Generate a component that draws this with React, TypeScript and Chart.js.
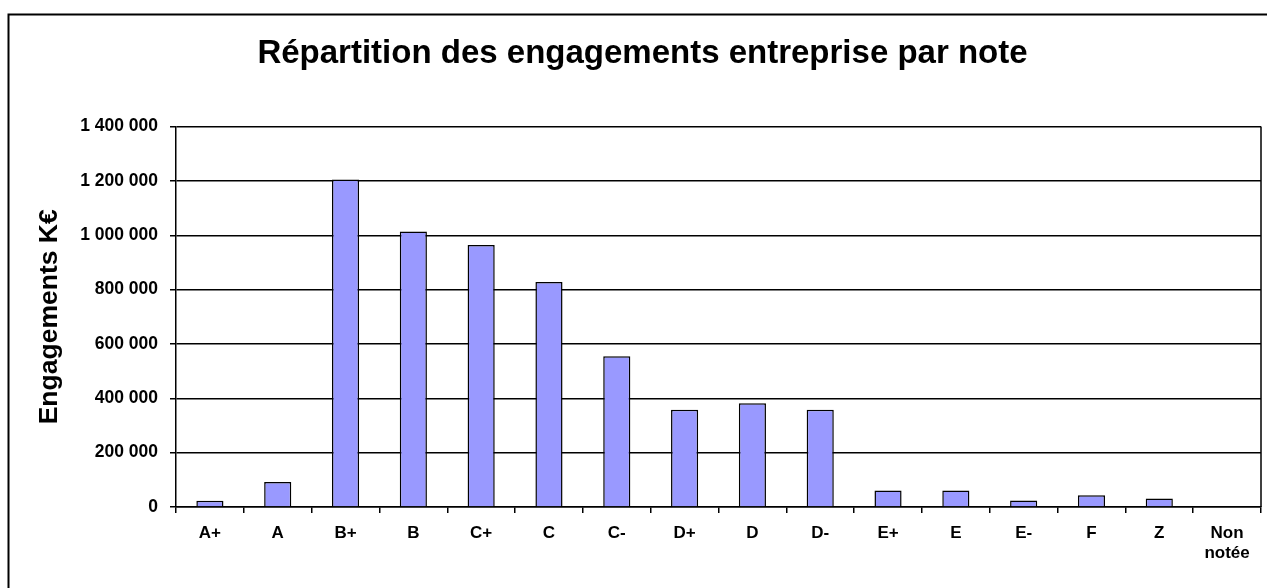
import React, { useEffect, useRef } from "react";
import { Chart, registerables } from "chart.js";

Chart.register(...registerables);

const categories: (string | string[])[] = [
  "A+", "A", "B+", "B", "C+", "C", "C-", "D+", "D", "D-", "E+", "E", "E-", "F", "Z", ["Non", "notée"],
];
const engagements: number[] = [
  23000, 92000, 1205000, 1014000, 964000, 828000, 555000, 358000, 382000, 358000, 61000, 61000, 24000, 43000, 31000, 0,
];
const yMin = 0;
const yMax = 1400000;
const yStep = 200000;
const titleText = "Répartition des engagements entreprise par note";
const yTitleText = "Engagements K€";

const FONT = "'Liberation Sans', Arial, Helvetica, sans-serif";

const fmt = (v: number) => String(Math.round(v)).replace(/\B(?=(\d{3})+(?!\d))/g, " ");

const framePlugin = {
  id: "frame",
  afterDraw(chart: any) {
    const { ctx, chartArea } = chart;
    ctx.save();
    ctx.strokeStyle = "#000";
    ctx.lineWidth = 2;
    ctx.strokeRect(8.5, 14.5, 1400, 700);
    ctx.lineWidth = 1.5;
    ctx.beginPath();
    ctx.moveTo(chartArea.right, chartArea.top);
    ctx.lineTo(chartArea.right, chartArea.bottom);
    ctx.stroke();
    ctx.restore();
  },
};

export default function App() {
  const ref = useRef<HTMLCanvasElement | null>(null);
  useEffect(() => {
    if (!ref.current) return;
    const chart = new Chart(ref.current, {
      type: "bar",
      data: {
        labels: categories,
        datasets: [
          {
            data: engagements,
            backgroundColor: "#9999FF",
            borderColor: "#000000",
            borderWidth: 1.5,
            barPercentage: 0.4,
            categoryPercentage: 1,
          },
        ],
      },
      options: {
        responsive: false,
        animation: false,
        devicePixelRatio: 1,
        layout: { padding: { left: 24, right: 6, top: 0, bottom: 0 } },
        plugins: {
          legend: { display: false },
          tooltip: { enabled: false },
          title: {
            display: true,
            text: titleText,
            color: "#000",
            font: { family: FONT, size: 33, weight: "bold", lineHeight: 1.2 },
            padding: { top: 34, bottom: 53 },
          },
        },
        scales: {
          x: {
            afterFit: (s: any) => { s.height = 81; },
            grid: {
              display: true,
              offset: true,
              drawOnChartArea: false,
              drawTicks: true,
              tickLength: 6,
              color: "#000",
              lineWidth: 1.5,
            },
            border: { display: true, color: "#000", width: 1.5 },
            ticks: {
              color: "#000",
              padding: 10,
              maxRotation: 0,
              autoSkip: false,
              font: { family: FONT, size: 17, weight: "bold", lineHeight: 1.18 },
            },
          },
          y: {
            min: yMin,
            max: yMax,
            afterFit: (s: any) => { s.width = 152; },
            grid: { color: "#000", lineWidth: 1.5, tickLength: 6 },
            border: { display: true, color: "#000", width: 1.5 },
            ticks: {
              stepSize: yStep,
              color: "#000",
              padding: 12,
              font: { family: FONT, size: 17.5, weight: "bold" },
              callback: (v: any) => fmt(Number(v)),
            },
            title: {
              display: true,
              text: yTitleText,
              color: "#000",
              font: { family: FONT, size: 26.5, weight: "bold", lineHeight: 1.2 },
              padding: { top: 10, bottom: 0 },
            },
          },
        },
      },
      plugins: [framePlugin],
    });
    return () => chart.destroy();
  }, []);
  return (
    <div style={{ position: "fixed", left: 0, top: 0, width: 1267, height: 588, background: "#fff" }}>
      <canvas ref={ref} width={1267} height={588} style={{ display: "block" }} />
    </div>
  );
}
